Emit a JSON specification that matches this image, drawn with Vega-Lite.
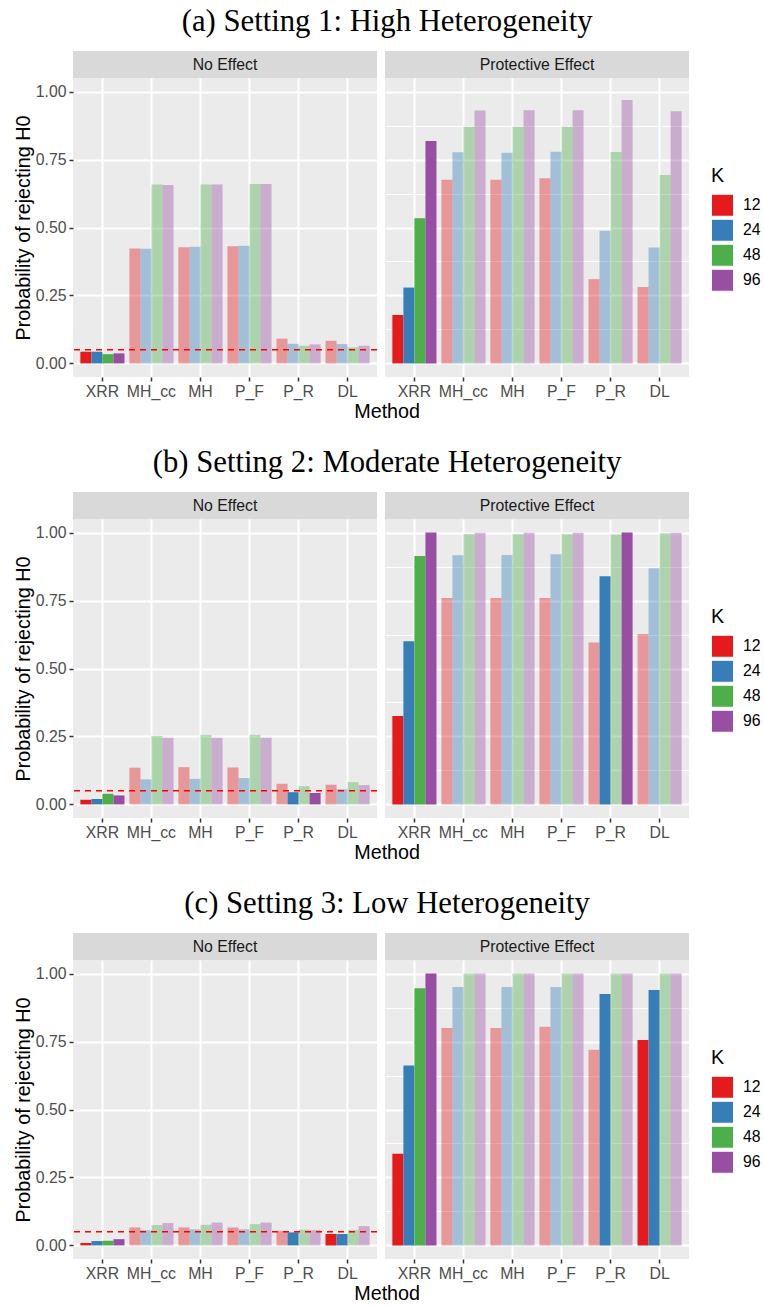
{
  "$schema": "https://vega.github.io/schema/vega-lite/v6.json",
  "background": "white",
  "padding": {"left": 13, "top": 6, "right": 2, "bottom": 1},
  "config": {
    "font": "Liberation Sans",
    "view": {"stroke": null, "fill": "#EBEBEB"},
    "title": {"fontWeight": "normal", "color": "#000000"}
  },
  "data": {"values": [
    {"setting":1,"effect":"No Effect","method":"XRR","K":"12","power":0.043,"type1ok":"yes"},
    {"setting":1,"effect":"No Effect","method":"XRR","K":"24","power":0.043,"type1ok":"yes"},
    {"setting":1,"effect":"No Effect","method":"XRR","K":"48","power":0.034,"type1ok":"yes"},
    {"setting":1,"effect":"No Effect","method":"XRR","K":"96","power":0.037,"type1ok":"yes"},
    {"setting":1,"effect":"No Effect","method":"MH_cc","K":"12","power":0.423,"type1ok":"no"},
    {"setting":1,"effect":"No Effect","method":"MH_cc","K":"24","power":0.422,"type1ok":"no"},
    {"setting":1,"effect":"No Effect","method":"MH_cc","K":"48","power":0.658,"type1ok":"no"},
    {"setting":1,"effect":"No Effect","method":"MH_cc","K":"96","power":0.656,"type1ok":"no"},
    {"setting":1,"effect":"No Effect","method":"MH","K":"12","power":0.427,"type1ok":"no"},
    {"setting":1,"effect":"No Effect","method":"MH","K":"24","power":0.429,"type1ok":"no"},
    {"setting":1,"effect":"No Effect","method":"MH","K":"48","power":0.658,"type1ok":"no"},
    {"setting":1,"effect":"No Effect","method":"MH","K":"96","power":0.658,"type1ok":"no"},
    {"setting":1,"effect":"No Effect","method":"P_F","K":"12","power":0.431,"type1ok":"no"},
    {"setting":1,"effect":"No Effect","method":"P_F","K":"24","power":0.433,"type1ok":"no"},
    {"setting":1,"effect":"No Effect","method":"P_F","K":"48","power":0.660,"type1ok":"no"},
    {"setting":1,"effect":"No Effect","method":"P_F","K":"96","power":0.660,"type1ok":"no"},
    {"setting":1,"effect":"No Effect","method":"P_R","K":"12","power":0.091,"type1ok":"no"},
    {"setting":1,"effect":"No Effect","method":"P_R","K":"24","power":0.072,"type1ok":"no"},
    {"setting":1,"effect":"No Effect","method":"P_R","K":"48","power":0.065,"type1ok":"no"},
    {"setting":1,"effect":"No Effect","method":"P_R","K":"96","power":0.070,"type1ok":"no"},
    {"setting":1,"effect":"No Effect","method":"DL","K":"12","power":0.083,"type1ok":"no"},
    {"setting":1,"effect":"No Effect","method":"DL","K":"24","power":0.071,"type1ok":"no"},
    {"setting":1,"effect":"No Effect","method":"DL","K":"48","power":0.059,"type1ok":"no"},
    {"setting":1,"effect":"No Effect","method":"DL","K":"96","power":0.065,"type1ok":"no"},
    {"setting":1,"effect":"Protective Effect","method":"XRR","K":"12","power":0.178,"type1ok":"yes"},
    {"setting":1,"effect":"Protective Effect","method":"XRR","K":"24","power":0.279,"type1ok":"yes"},
    {"setting":1,"effect":"Protective Effect","method":"XRR","K":"48","power":0.534,"type1ok":"yes"},
    {"setting":1,"effect":"Protective Effect","method":"XRR","K":"96","power":0.818,"type1ok":"yes"},
    {"setting":1,"effect":"Protective Effect","method":"MH_cc","K":"12","power":0.676,"type1ok":"no"},
    {"setting":1,"effect":"Protective Effect","method":"MH_cc","K":"24","power":0.777,"type1ok":"no"},
    {"setting":1,"effect":"Protective Effect","method":"MH_cc","K":"48","power":0.871,"type1ok":"no"},
    {"setting":1,"effect":"Protective Effect","method":"MH_cc","K":"96","power":0.930,"type1ok":"no"},
    {"setting":1,"effect":"Protective Effect","method":"MH","K":"12","power":0.676,"type1ok":"no"},
    {"setting":1,"effect":"Protective Effect","method":"MH","K":"24","power":0.775,"type1ok":"no"},
    {"setting":1,"effect":"Protective Effect","method":"MH","K":"48","power":0.871,"type1ok":"no"},
    {"setting":1,"effect":"Protective Effect","method":"MH","K":"96","power":0.931,"type1ok":"no"},
    {"setting":1,"effect":"Protective Effect","method":"P_F","K":"12","power":0.681,"type1ok":"no"},
    {"setting":1,"effect":"Protective Effect","method":"P_F","K":"24","power":0.779,"type1ok":"no"},
    {"setting":1,"effect":"Protective Effect","method":"P_F","K":"48","power":0.871,"type1ok":"no"},
    {"setting":1,"effect":"Protective Effect","method":"P_F","K":"96","power":0.931,"type1ok":"no"},
    {"setting":1,"effect":"Protective Effect","method":"P_R","K":"12","power":0.310,"type1ok":"no"},
    {"setting":1,"effect":"Protective Effect","method":"P_R","K":"24","power":0.488,"type1ok":"no"},
    {"setting":1,"effect":"Protective Effect","method":"P_R","K":"48","power":0.778,"type1ok":"no"},
    {"setting":1,"effect":"Protective Effect","method":"P_R","K":"96","power":0.969,"type1ok":"no"},
    {"setting":1,"effect":"Protective Effect","method":"DL","K":"12","power":0.281,"type1ok":"no"},
    {"setting":1,"effect":"Protective Effect","method":"DL","K":"24","power":0.426,"type1ok":"no"},
    {"setting":1,"effect":"Protective Effect","method":"DL","K":"48","power":0.693,"type1ok":"no"},
    {"setting":1,"effect":"Protective Effect","method":"DL","K":"96","power":0.928,"type1ok":"no"},

    {"setting":2,"effect":"No Effect","method":"XRR","K":"12","power":0.017,"type1ok":"yes"},
    {"setting":2,"effect":"No Effect","method":"XRR","K":"24","power":0.020,"type1ok":"yes"},
    {"setting":2,"effect":"No Effect","method":"XRR","K":"48","power":0.039,"type1ok":"yes"},
    {"setting":2,"effect":"No Effect","method":"XRR","K":"96","power":0.033,"type1ok":"yes"},
    {"setting":2,"effect":"No Effect","method":"MH_cc","K":"12","power":0.135,"type1ok":"no"},
    {"setting":2,"effect":"No Effect","method":"MH_cc","K":"24","power":0.092,"type1ok":"no"},
    {"setting":2,"effect":"No Effect","method":"MH_cc","K":"48","power":0.252,"type1ok":"no"},
    {"setting":2,"effect":"No Effect","method":"MH_cc","K":"96","power":0.245,"type1ok":"no"},
    {"setting":2,"effect":"No Effect","method":"MH","K":"12","power":0.137,"type1ok":"no"},
    {"setting":2,"effect":"No Effect","method":"MH","K":"24","power":0.094,"type1ok":"no"},
    {"setting":2,"effect":"No Effect","method":"MH","K":"48","power":0.256,"type1ok":"no"},
    {"setting":2,"effect":"No Effect","method":"MH","K":"96","power":0.245,"type1ok":"no"},
    {"setting":2,"effect":"No Effect","method":"P_F","K":"12","power":0.136,"type1ok":"no"},
    {"setting":2,"effect":"No Effect","method":"P_F","K":"24","power":0.097,"type1ok":"no"},
    {"setting":2,"effect":"No Effect","method":"P_F","K":"48","power":0.256,"type1ok":"no"},
    {"setting":2,"effect":"No Effect","method":"P_F","K":"96","power":0.245,"type1ok":"no"},
    {"setting":2,"effect":"No Effect","method":"P_R","K":"12","power":0.076,"type1ok":"no"},
    {"setting":2,"effect":"No Effect","method":"P_R","K":"24","power":0.045,"type1ok":"yes"},
    {"setting":2,"effect":"No Effect","method":"P_R","K":"48","power":0.067,"type1ok":"no"},
    {"setting":2,"effect":"No Effect","method":"P_R","K":"96","power":0.042,"type1ok":"yes"},
    {"setting":2,"effect":"No Effect","method":"DL","K":"12","power":0.072,"type1ok":"no"},
    {"setting":2,"effect":"No Effect","method":"DL","K":"24","power":0.056,"type1ok":"no"},
    {"setting":2,"effect":"No Effect","method":"DL","K":"48","power":0.082,"type1ok":"no"},
    {"setting":2,"effect":"No Effect","method":"DL","K":"96","power":0.071,"type1ok":"no"},
    {"setting":2,"effect":"Protective Effect","method":"XRR","K":"12","power":0.325,"type1ok":"yes"},
    {"setting":2,"effect":"Protective Effect","method":"XRR","K":"24","power":0.600,"type1ok":"yes"},
    {"setting":2,"effect":"Protective Effect","method":"XRR","K":"48","power":0.914,"type1ok":"yes"},
    {"setting":2,"effect":"Protective Effect","method":"XRR","K":"96","power":1.000,"type1ok":"yes"},
    {"setting":2,"effect":"Protective Effect","method":"MH_cc","K":"12","power":0.759,"type1ok":"no"},
    {"setting":2,"effect":"Protective Effect","method":"MH_cc","K":"24","power":0.917,"type1ok":"no"},
    {"setting":2,"effect":"Protective Effect","method":"MH_cc","K":"48","power":0.994,"type1ok":"no"},
    {"setting":2,"effect":"Protective Effect","method":"MH_cc","K":"96","power":0.999,"type1ok":"no"},
    {"setting":2,"effect":"Protective Effect","method":"MH","K":"12","power":0.759,"type1ok":"no"},
    {"setting":2,"effect":"Protective Effect","method":"MH","K":"24","power":0.918,"type1ok":"no"},
    {"setting":2,"effect":"Protective Effect","method":"MH","K":"48","power":0.994,"type1ok":"no"},
    {"setting":2,"effect":"Protective Effect","method":"MH","K":"96","power":0.999,"type1ok":"no"},
    {"setting":2,"effect":"Protective Effect","method":"P_F","K":"12","power":0.759,"type1ok":"no"},
    {"setting":2,"effect":"Protective Effect","method":"P_F","K":"24","power":0.920,"type1ok":"no"},
    {"setting":2,"effect":"Protective Effect","method":"P_F","K":"48","power":0.994,"type1ok":"no"},
    {"setting":2,"effect":"Protective Effect","method":"P_F","K":"96","power":0.999,"type1ok":"no"},
    {"setting":2,"effect":"Protective Effect","method":"P_R","K":"12","power":0.596,"type1ok":"no"},
    {"setting":2,"effect":"Protective Effect","method":"P_R","K":"24","power":0.839,"type1ok":"yes"},
    {"setting":2,"effect":"Protective Effect","method":"P_R","K":"48","power":0.993,"type1ok":"no"},
    {"setting":2,"effect":"Protective Effect","method":"P_R","K":"96","power":1.000,"type1ok":"yes"},
    {"setting":2,"effect":"Protective Effect","method":"DL","K":"12","power":0.627,"type1ok":"no"},
    {"setting":2,"effect":"Protective Effect","method":"DL","K":"24","power":0.869,"type1ok":"no"},
    {"setting":2,"effect":"Protective Effect","method":"DL","K":"48","power":0.998,"type1ok":"no"},
    {"setting":2,"effect":"Protective Effect","method":"DL","K":"96","power":0.999,"type1ok":"no"},

    {"setting":3,"effect":"No Effect","method":"XRR","K":"12","power":0.009,"type1ok":"yes"},
    {"setting":3,"effect":"No Effect","method":"XRR","K":"24","power":0.016,"type1ok":"yes"},
    {"setting":3,"effect":"No Effect","method":"XRR","K":"48","power":0.017,"type1ok":"yes"},
    {"setting":3,"effect":"No Effect","method":"XRR","K":"96","power":0.023,"type1ok":"yes"},
    {"setting":3,"effect":"No Effect","method":"MH_cc","K":"12","power":0.066,"type1ok":"no"},
    {"setting":3,"effect":"No Effect","method":"MH_cc","K":"24","power":0.056,"type1ok":"no"},
    {"setting":3,"effect":"No Effect","method":"MH_cc","K":"48","power":0.075,"type1ok":"no"},
    {"setting":3,"effect":"No Effect","method":"MH_cc","K":"96","power":0.082,"type1ok":"no"},
    {"setting":3,"effect":"No Effect","method":"MH","K":"12","power":0.066,"type1ok":"no"},
    {"setting":3,"effect":"No Effect","method":"MH","K":"24","power":0.059,"type1ok":"no"},
    {"setting":3,"effect":"No Effect","method":"MH","K":"48","power":0.076,"type1ok":"no"},
    {"setting":3,"effect":"No Effect","method":"MH","K":"96","power":0.084,"type1ok":"no"},
    {"setting":3,"effect":"No Effect","method":"P_F","K":"12","power":0.066,"type1ok":"no"},
    {"setting":3,"effect":"No Effect","method":"P_F","K":"24","power":0.059,"type1ok":"no"},
    {"setting":3,"effect":"No Effect","method":"P_F","K":"48","power":0.078,"type1ok":"no"},
    {"setting":3,"effect":"No Effect","method":"P_F","K":"96","power":0.084,"type1ok":"no"},
    {"setting":3,"effect":"No Effect","method":"P_R","K":"12","power":0.053,"type1ok":"no"},
    {"setting":3,"effect":"No Effect","method":"P_R","K":"24","power":0.048,"type1ok":"yes"},
    {"setting":3,"effect":"No Effect","method":"P_R","K":"48","power":0.058,"type1ok":"no"},
    {"setting":3,"effect":"No Effect","method":"P_R","K":"96","power":0.056,"type1ok":"no"},
    {"setting":3,"effect":"No Effect","method":"DL","K":"12","power":0.042,"type1ok":"yes"},
    {"setting":3,"effect":"No Effect","method":"DL","K":"24","power":0.042,"type1ok":"yes"},
    {"setting":3,"effect":"No Effect","method":"DL","K":"48","power":0.056,"type1ok":"no"},
    {"setting":3,"effect":"No Effect","method":"DL","K":"96","power":0.071,"type1ok":"no"},
    {"setting":3,"effect":"Protective Effect","method":"XRR","K":"12","power":0.337,"type1ok":"yes"},
    {"setting":3,"effect":"Protective Effect","method":"XRR","K":"24","power":0.662,"type1ok":"yes"},
    {"setting":3,"effect":"Protective Effect","method":"XRR","K":"48","power":0.946,"type1ok":"yes"},
    {"setting":3,"effect":"Protective Effect","method":"XRR","K":"96","power":1.000,"type1ok":"yes"},
    {"setting":3,"effect":"Protective Effect","method":"MH_cc","K":"12","power":0.800,"type1ok":"no"},
    {"setting":3,"effect":"Protective Effect","method":"MH_cc","K":"24","power":0.951,"type1ok":"no"},
    {"setting":3,"effect":"Protective Effect","method":"MH_cc","K":"48","power":1.000,"type1ok":"no"},
    {"setting":3,"effect":"Protective Effect","method":"MH_cc","K":"96","power":1.000,"type1ok":"no"},
    {"setting":3,"effect":"Protective Effect","method":"MH","K":"12","power":0.800,"type1ok":"no"},
    {"setting":3,"effect":"Protective Effect","method":"MH","K":"24","power":0.951,"type1ok":"no"},
    {"setting":3,"effect":"Protective Effect","method":"MH","K":"48","power":1.000,"type1ok":"no"},
    {"setting":3,"effect":"Protective Effect","method":"MH","K":"96","power":1.000,"type1ok":"no"},
    {"setting":3,"effect":"Protective Effect","method":"P_F","K":"12","power":0.804,"type1ok":"no"},
    {"setting":3,"effect":"Protective Effect","method":"P_F","K":"24","power":0.951,"type1ok":"no"},
    {"setting":3,"effect":"Protective Effect","method":"P_F","K":"48","power":1.000,"type1ok":"no"},
    {"setting":3,"effect":"Protective Effect","method":"P_F","K":"96","power":1.000,"type1ok":"no"},
    {"setting":3,"effect":"Protective Effect","method":"P_R","K":"12","power":0.720,"type1ok":"no"},
    {"setting":3,"effect":"Protective Effect","method":"P_R","K":"24","power":0.925,"type1ok":"yes"},
    {"setting":3,"effect":"Protective Effect","method":"P_R","K":"48","power":1.000,"type1ok":"no"},
    {"setting":3,"effect":"Protective Effect","method":"P_R","K":"96","power":1.000,"type1ok":"no"},
    {"setting":3,"effect":"Protective Effect","method":"DL","K":"12","power":0.756,"type1ok":"yes"},
    {"setting":3,"effect":"Protective Effect","method":"DL","K":"24","power":0.940,"type1ok":"yes"},
    {"setting":3,"effect":"Protective Effect","method":"DL","K":"48","power":1.000,"type1ok":"no"},
    {"setting":3,"effect":"Protective Effect","method":"DL","K":"96","power":1.000,"type1ok":"no"}
  ]},
  "spacing": 25,
  "resolve": {"scale": {"color": "independent", "opacity": "independent", "x": "independent", "y": "independent"}},
  "vconcat": [
    {
      "title": {"text": "(a) Setting 1: High Heterogeneity", "font": "Liberation Serif", "fontSize": 30.7, "fontWeight": "normal", "color": "#000000", "anchor": "middle", "frame": "bounds", "offset": 13},
      "resolve": {"scale": {"color": "independent", "opacity": "independent", "x": "independent", "y": "independent"}},
      "vconcat": [
        {
          "title": {"text": "Method", "orient": "bottom", "fontSize": 19.75, "fontWeight": "normal", "color": "#000000", "anchor": "middle", "frame": "bounds", "offset": 3},
          "columns": 2,
          "align": "each",
          "spacing": {"row": 0, "column": 7},
          "resolve": {"scale": {"color": "independent", "opacity": "independent", "x": "independent", "y": "independent"}},
          "concat": [
            {"width": 304, "height": 27, "view": {"fill": "#D9D9D9", "stroke": null}, "data": {"values": [{"panel": "No Effect"}]}, "mark": {"type": "text", "fontSize": 15.8, "color": "#1A1A1A"}, "encoding": {"x": {"field": "panel", "type": "nominal", "axis": null}, "y": {"field": "panel", "type": "nominal", "axis": null}, "text": {"field": "panel"}}},
            {"width": 304, "height": 27, "view": {"fill": "#D9D9D9", "stroke": null}, "data": {"values": [{"panel": "Protective Effect"}]}, "mark": {"type": "text", "fontSize": 15.8, "color": "#1A1A1A"}, "encoding": {"x": {"field": "panel", "type": "nominal", "axis": null}, "y": {"field": "panel", "type": "nominal", "axis": null}, "text": {"field": "panel"}}},
            {"width": 304, "height": 299, "layer": [
              {"transform": [{"filter": "datum.setting == 1 && datum.effect == 'No Effect'"}], "mark": {"type": "bar"}, "encoding": {
                "x": {"field": "method", "type": "nominal", "sort": ["XRR","MH_cc","MH","P_F","P_R","DL"], "scale": {"paddingInner": 0.1, "paddingOuter": 0.15}, "axis": {"title": null, "labelFontSize": 15.8, "labelColor": "#4D4D4D", "labelAngle": 0, "labelPadding": 3, "tickColor": "#333333", "tickSize": 4, "tickWidth": 1.5, "domain": false, "grid": true, "gridColor": "#FFFFFF", "gridWidth": 2, "bandPosition": 0.5}},
                "xOffset": {"field": "K", "type": "nominal", "sort": ["12","24","48","96"], "scale": {"paddingInner": 0, "paddingOuter": 0}},
                "y": {"field": "power", "type": "quantitative", "scale": {"domain": [-0.05, 1.05], "nice": false, "zero": false}, "axis": {"title": "Probability of rejecting H0", "titleFontSize": 19.75, "titleFontWeight": "normal", "titleColor": "#000000", "titlePadding": 2, "values": [0,0.125,0.25,0.375,0.5,0.625,0.75,0.875,1], "labelExpr": "(datum.value*4)%1==0 ? format(datum.value,'.2f') : ''", "labelFontSize": 15.8, "labelColor": "#4D4D4D", "labelPadding": 3, "tickColor": "#333333", "tickSize": 4, "tickWidth": 1.5, "tickOpacity": {"condition": {"test": "(datum.value*4)%1!=0", "value": 0}, "value": 1}, "grid": true, "gridColor": "#FFFFFF", "gridWidth": {"condition": {"test": "(datum.value*4)%1!=0", "value": 1}, "value": 2}, "domain": false}},
                "y2": {"datum": 0},
                "color": {"field": "K", "type": "nominal", "scale": {"domain": ["12","24","48","96"], "range": ["#E41A1C","#377EB8","#4DAF4A","#984EA3"]}, "legend": null},
                "opacity": {"field": "type1ok", "type": "nominal", "scale": {"domain": ["yes","no"], "range": [1, 0.4]}, "legend": null}
              }},
              {"data": {"values": [{"alpha": 0.05}]}, "mark": {"type": "rule", "color": "#FF0000", "strokeDash": [6, 5], "strokeWidth": 1.5}, "encoding": {"y": {"field": "alpha", "type": "quantitative"}}}
            ]},
            {"width": 304, "height": 299, "layer": [
              {"transform": [{"filter": "datum.setting == 1 && datum.effect == 'Protective Effect'"}], "mark": {"type": "bar"}, "encoding": {
                "x": {"field": "method", "type": "nominal", "sort": ["XRR","MH_cc","MH","P_F","P_R","DL"], "scale": {"paddingInner": 0.1, "paddingOuter": 0.15}, "axis": {"title": null, "labelFontSize": 15.8, "labelColor": "#4D4D4D", "labelAngle": 0, "labelPadding": 3, "tickColor": "#333333", "tickSize": 4, "tickWidth": 1.5, "domain": false, "grid": true, "gridColor": "#FFFFFF", "gridWidth": 2, "bandPosition": 0.5}},
                "xOffset": {"field": "K", "type": "nominal", "sort": ["12","24","48","96"], "scale": {"paddingInner": 0, "paddingOuter": 0}},
                "y": {"field": "power", "type": "quantitative", "scale": {"domain": [-0.05, 1.05], "nice": false, "zero": false}, "axis": {"title": null, "values": [0,0.125,0.25,0.375,0.5,0.625,0.75,0.875,1], "labels": false, "ticks": false, "grid": true, "gridColor": "#FFFFFF", "gridWidth": {"condition": {"test": "(datum.value*4)%1!=0", "value": 1}, "value": 2}, "domain": false}},
                "y2": {"datum": 0},
                "color": {"field": "K", "type": "nominal", "scale": {"domain": ["12","24","48","96"], "range": ["#E41A1C","#377EB8","#4DAF4A","#984EA3"]}, "legend": {"title": "K", "orient": "none", "legendX": 326, "legendY": 88, "padding": 0, "titleFontSize": 19.75, "titleFontWeight": "normal", "titleColor": "#000000", "titlePadding": 8, "labelFontSize": 15.8, "labelColor": "#000000", "labelOffset": 9, "symbolType": "square", "symbolSize": 484, "symbolStrokeColor": "#FFFFFF", "symbolStrokeWidth": 1, "symbolOpacity": 1, "rowPadding": -4}},
                "opacity": {"field": "type1ok", "type": "nominal", "scale": {"domain": ["yes","no"], "range": [1, 0.4]}, "legend": null}
              }}
            ]}
          ]
        }
      ]
    },
    {
      "title": {"text": "(b) Setting 2: Moderate Heterogeneity", "font": "Liberation Serif", "fontSize": 30.7, "fontWeight": "normal", "color": "#000000", "anchor": "middle", "frame": "bounds", "offset": 13},
      "resolve": {"scale": {"color": "independent", "opacity": "independent", "x": "independent", "y": "independent"}},
      "vconcat": [
        {
          "title": {"text": "Method", "orient": "bottom", "fontSize": 19.75, "fontWeight": "normal", "color": "#000000", "anchor": "middle", "frame": "bounds", "offset": 3},
          "columns": 2,
          "align": "each",
          "spacing": {"row": 0, "column": 7},
          "resolve": {"scale": {"color": "independent", "opacity": "independent", "x": "independent", "y": "independent"}},
          "concat": [
            {"width": 304, "height": 27, "view": {"fill": "#D9D9D9", "stroke": null}, "data": {"values": [{"panel": "No Effect"}]}, "mark": {"type": "text", "fontSize": 15.8, "color": "#1A1A1A"}, "encoding": {"x": {"field": "panel", "type": "nominal", "axis": null}, "y": {"field": "panel", "type": "nominal", "axis": null}, "text": {"field": "panel"}}},
            {"width": 304, "height": 27, "view": {"fill": "#D9D9D9", "stroke": null}, "data": {"values": [{"panel": "Protective Effect"}]}, "mark": {"type": "text", "fontSize": 15.8, "color": "#1A1A1A"}, "encoding": {"x": {"field": "panel", "type": "nominal", "axis": null}, "y": {"field": "panel", "type": "nominal", "axis": null}, "text": {"field": "panel"}}},
            {"width": 304, "height": 299, "layer": [
              {"transform": [{"filter": "datum.setting == 2 && datum.effect == 'No Effect'"}], "mark": {"type": "bar"}, "encoding": {
                "x": {"field": "method", "type": "nominal", "sort": ["XRR","MH_cc","MH","P_F","P_R","DL"], "scale": {"paddingInner": 0.1, "paddingOuter": 0.15}, "axis": {"title": null, "labelFontSize": 15.8, "labelColor": "#4D4D4D", "labelAngle": 0, "labelPadding": 3, "tickColor": "#333333", "tickSize": 4, "tickWidth": 1.5, "domain": false, "grid": true, "gridColor": "#FFFFFF", "gridWidth": 2, "bandPosition": 0.5}},
                "xOffset": {"field": "K", "type": "nominal", "sort": ["12","24","48","96"], "scale": {"paddingInner": 0, "paddingOuter": 0}},
                "y": {"field": "power", "type": "quantitative", "scale": {"domain": [-0.05, 1.05], "nice": false, "zero": false}, "axis": {"title": "Probability of rejecting H0", "titleFontSize": 19.75, "titleFontWeight": "normal", "titleColor": "#000000", "titlePadding": 2, "values": [0,0.125,0.25,0.375,0.5,0.625,0.75,0.875,1], "labelExpr": "(datum.value*4)%1==0 ? format(datum.value,'.2f') : ''", "labelFontSize": 15.8, "labelColor": "#4D4D4D", "labelPadding": 3, "tickColor": "#333333", "tickSize": 4, "tickWidth": 1.5, "tickOpacity": {"condition": {"test": "(datum.value*4)%1!=0", "value": 0}, "value": 1}, "grid": true, "gridColor": "#FFFFFF", "gridWidth": {"condition": {"test": "(datum.value*4)%1!=0", "value": 1}, "value": 2}, "domain": false}},
                "y2": {"datum": 0},
                "color": {"field": "K", "type": "nominal", "scale": {"domain": ["12","24","48","96"], "range": ["#E41A1C","#377EB8","#4DAF4A","#984EA3"]}, "legend": null},
                "opacity": {"field": "type1ok", "type": "nominal", "scale": {"domain": ["yes","no"], "range": [1, 0.4]}, "legend": null}
              }},
              {"data": {"values": [{"alpha": 0.05}]}, "mark": {"type": "rule", "color": "#FF0000", "strokeDash": [6, 5], "strokeWidth": 1.5}, "encoding": {"y": {"field": "alpha", "type": "quantitative"}}}
            ]},
            {"width": 304, "height": 299, "layer": [
              {"transform": [{"filter": "datum.setting == 2 && datum.effect == 'Protective Effect'"}], "mark": {"type": "bar"}, "encoding": {
                "x": {"field": "method", "type": "nominal", "sort": ["XRR","MH_cc","MH","P_F","P_R","DL"], "scale": {"paddingInner": 0.1, "paddingOuter": 0.15}, "axis": {"title": null, "labelFontSize": 15.8, "labelColor": "#4D4D4D", "labelAngle": 0, "labelPadding": 3, "tickColor": "#333333", "tickSize": 4, "tickWidth": 1.5, "domain": false, "grid": true, "gridColor": "#FFFFFF", "gridWidth": 2, "bandPosition": 0.5}},
                "xOffset": {"field": "K", "type": "nominal", "sort": ["12","24","48","96"], "scale": {"paddingInner": 0, "paddingOuter": 0}},
                "y": {"field": "power", "type": "quantitative", "scale": {"domain": [-0.05, 1.05], "nice": false, "zero": false}, "axis": {"title": null, "values": [0,0.125,0.25,0.375,0.5,0.625,0.75,0.875,1], "labels": false, "ticks": false, "grid": true, "gridColor": "#FFFFFF", "gridWidth": {"condition": {"test": "(datum.value*4)%1!=0", "value": 1}, "value": 2}, "domain": false}},
                "y2": {"datum": 0},
                "color": {"field": "K", "type": "nominal", "scale": {"domain": ["12","24","48","96"], "range": ["#E41A1C","#377EB8","#4DAF4A","#984EA3"]}, "legend": {"title": "K", "orient": "none", "legendX": 326, "legendY": 88, "padding": 0, "titleFontSize": 19.75, "titleFontWeight": "normal", "titleColor": "#000000", "titlePadding": 8, "labelFontSize": 15.8, "labelColor": "#000000", "labelOffset": 9, "symbolType": "square", "symbolSize": 484, "symbolStrokeColor": "#FFFFFF", "symbolStrokeWidth": 1, "symbolOpacity": 1, "rowPadding": -4}},
                "opacity": {"field": "type1ok", "type": "nominal", "scale": {"domain": ["yes","no"], "range": [1, 0.4]}, "legend": null}
              }}
            ]}
          ]
        }
      ]
    },
    {
      "title": {"text": "(c) Setting 3: Low Heterogeneity", "font": "Liberation Serif", "fontSize": 30.7, "fontWeight": "normal", "color": "#000000", "anchor": "middle", "frame": "bounds", "offset": 13},
      "resolve": {"scale": {"color": "independent", "opacity": "independent", "x": "independent", "y": "independent"}},
      "vconcat": [
        {
          "title": {"text": "Method", "orient": "bottom", "fontSize": 19.75, "fontWeight": "normal", "color": "#000000", "anchor": "middle", "frame": "bounds", "offset": 3},
          "columns": 2,
          "align": "each",
          "spacing": {"row": 0, "column": 7},
          "resolve": {"scale": {"color": "independent", "opacity": "independent", "x": "independent", "y": "independent"}},
          "concat": [
            {"width": 304, "height": 27, "view": {"fill": "#D9D9D9", "stroke": null}, "data": {"values": [{"panel": "No Effect"}]}, "mark": {"type": "text", "fontSize": 15.8, "color": "#1A1A1A"}, "encoding": {"x": {"field": "panel", "type": "nominal", "axis": null}, "y": {"field": "panel", "type": "nominal", "axis": null}, "text": {"field": "panel"}}},
            {"width": 304, "height": 27, "view": {"fill": "#D9D9D9", "stroke": null}, "data": {"values": [{"panel": "Protective Effect"}]}, "mark": {"type": "text", "fontSize": 15.8, "color": "#1A1A1A"}, "encoding": {"x": {"field": "panel", "type": "nominal", "axis": null}, "y": {"field": "panel", "type": "nominal", "axis": null}, "text": {"field": "panel"}}},
            {"width": 304, "height": 299, "layer": [
              {"transform": [{"filter": "datum.setting == 3 && datum.effect == 'No Effect'"}], "mark": {"type": "bar"}, "encoding": {
                "x": {"field": "method", "type": "nominal", "sort": ["XRR","MH_cc","MH","P_F","P_R","DL"], "scale": {"paddingInner": 0.1, "paddingOuter": 0.15}, "axis": {"title": null, "labelFontSize": 15.8, "labelColor": "#4D4D4D", "labelAngle": 0, "labelPadding": 3, "tickColor": "#333333", "tickSize": 4, "tickWidth": 1.5, "domain": false, "grid": true, "gridColor": "#FFFFFF", "gridWidth": 2, "bandPosition": 0.5}},
                "xOffset": {"field": "K", "type": "nominal", "sort": ["12","24","48","96"], "scale": {"paddingInner": 0, "paddingOuter": 0}},
                "y": {"field": "power", "type": "quantitative", "scale": {"domain": [-0.05, 1.05], "nice": false, "zero": false}, "axis": {"title": "Probability of rejecting H0", "titleFontSize": 19.75, "titleFontWeight": "normal", "titleColor": "#000000", "titlePadding": 2, "values": [0,0.125,0.25,0.375,0.5,0.625,0.75,0.875,1], "labelExpr": "(datum.value*4)%1==0 ? format(datum.value,'.2f') : ''", "labelFontSize": 15.8, "labelColor": "#4D4D4D", "labelPadding": 3, "tickColor": "#333333", "tickSize": 4, "tickWidth": 1.5, "tickOpacity": {"condition": {"test": "(datum.value*4)%1!=0", "value": 0}, "value": 1}, "grid": true, "gridColor": "#FFFFFF", "gridWidth": {"condition": {"test": "(datum.value*4)%1!=0", "value": 1}, "value": 2}, "domain": false}},
                "y2": {"datum": 0},
                "color": {"field": "K", "type": "nominal", "scale": {"domain": ["12","24","48","96"], "range": ["#E41A1C","#377EB8","#4DAF4A","#984EA3"]}, "legend": null},
                "opacity": {"field": "type1ok", "type": "nominal", "scale": {"domain": ["yes","no"], "range": [1, 0.4]}, "legend": null}
              }},
              {"data": {"values": [{"alpha": 0.05}]}, "mark": {"type": "rule", "color": "#FF0000", "strokeDash": [6, 5], "strokeWidth": 1.5}, "encoding": {"y": {"field": "alpha", "type": "quantitative"}}}
            ]},
            {"width": 304, "height": 299, "layer": [
              {"transform": [{"filter": "datum.setting == 3 && datum.effect == 'Protective Effect'"}], "mark": {"type": "bar"}, "encoding": {
                "x": {"field": "method", "type": "nominal", "sort": ["XRR","MH_cc","MH","P_F","P_R","DL"], "scale": {"paddingInner": 0.1, "paddingOuter": 0.15}, "axis": {"title": null, "labelFontSize": 15.8, "labelColor": "#4D4D4D", "labelAngle": 0, "labelPadding": 3, "tickColor": "#333333", "tickSize": 4, "tickWidth": 1.5, "domain": false, "grid": true, "gridColor": "#FFFFFF", "gridWidth": 2, "bandPosition": 0.5}},
                "xOffset": {"field": "K", "type": "nominal", "sort": ["12","24","48","96"], "scale": {"paddingInner": 0, "paddingOuter": 0}},
                "y": {"field": "power", "type": "quantitative", "scale": {"domain": [-0.05, 1.05], "nice": false, "zero": false}, "axis": {"title": null, "values": [0,0.125,0.25,0.375,0.5,0.625,0.75,0.875,1], "labels": false, "ticks": false, "grid": true, "gridColor": "#FFFFFF", "gridWidth": {"condition": {"test": "(datum.value*4)%1!=0", "value": 1}, "value": 2}, "domain": false}},
                "y2": {"datum": 0},
                "color": {"field": "K", "type": "nominal", "scale": {"domain": ["12","24","48","96"], "range": ["#E41A1C","#377EB8","#4DAF4A","#984EA3"]}, "legend": {"title": "K", "orient": "none", "legendX": 326, "legendY": 88, "padding": 0, "titleFontSize": 19.75, "titleFontWeight": "normal", "titleColor": "#000000", "titlePadding": 8, "labelFontSize": 15.8, "labelColor": "#000000", "labelOffset": 9, "symbolType": "square", "symbolSize": 484, "symbolStrokeColor": "#FFFFFF", "symbolStrokeWidth": 1, "symbolOpacity": 1, "rowPadding": -4}},
                "opacity": {"field": "type1ok", "type": "nominal", "scale": {"domain": ["yes","no"], "range": [1, 0.4]}, "legend": null}
              }}
            ]}
          ]
        }
      ]
    }
  ]
}
